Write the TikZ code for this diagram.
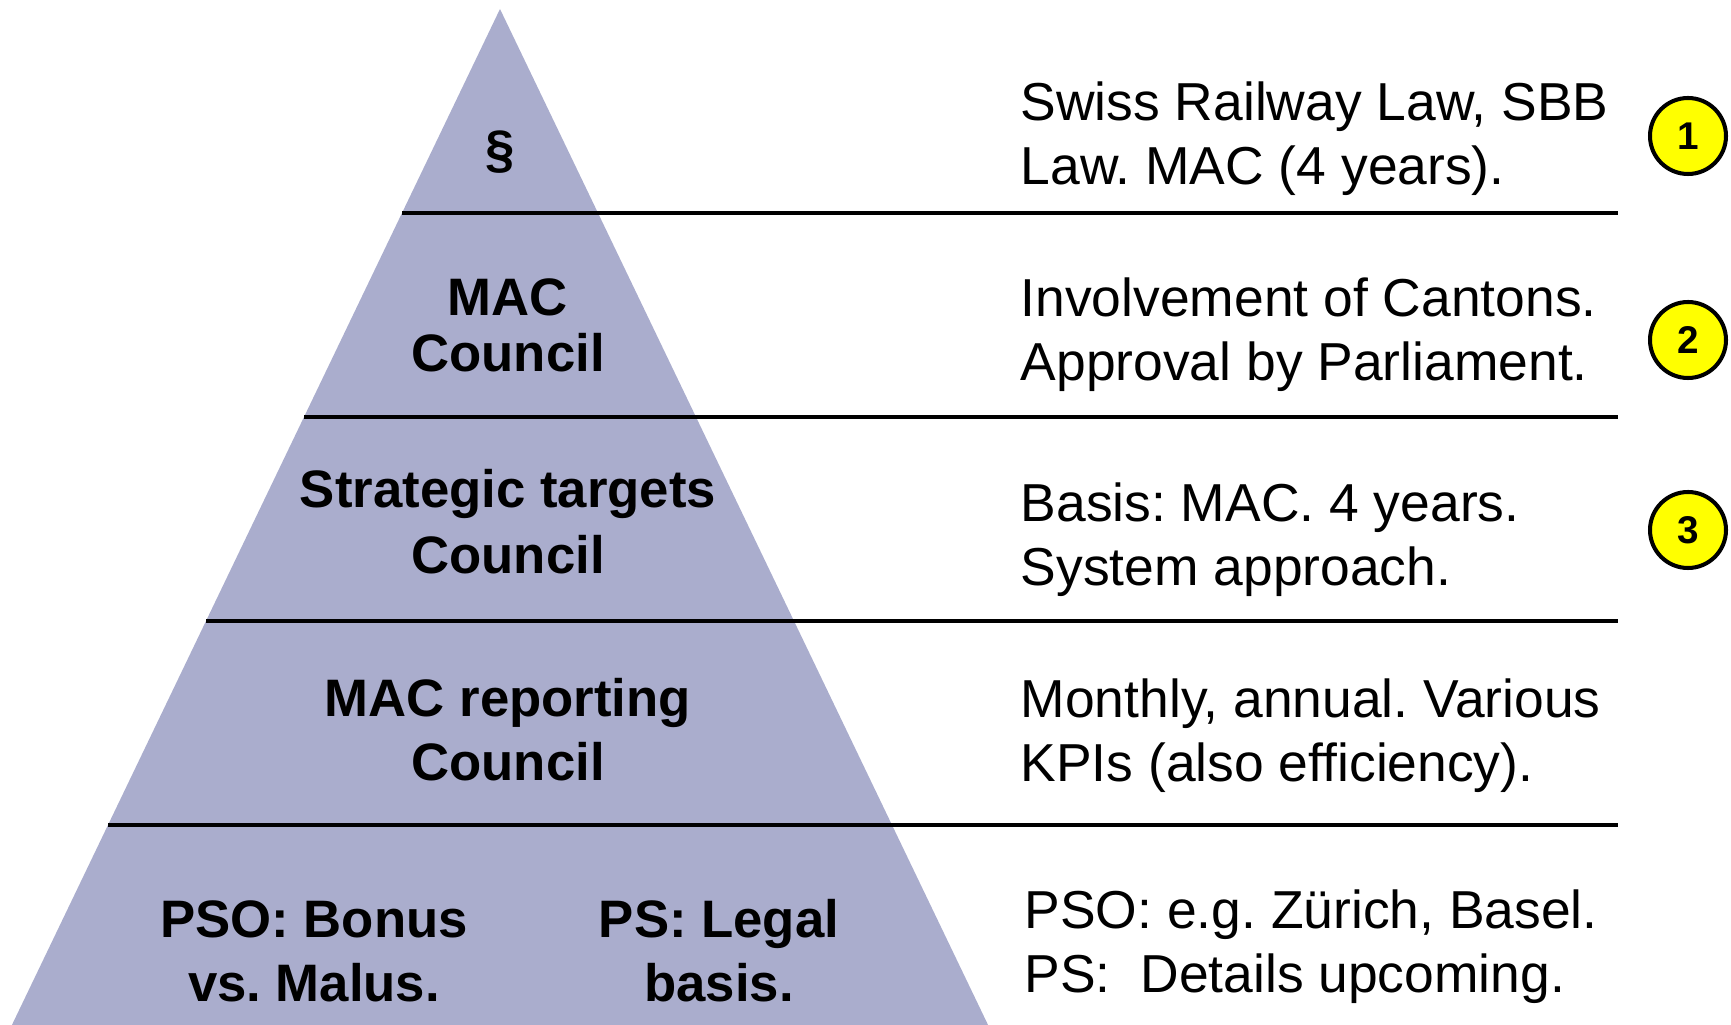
\documentclass[tikz,border=0pt]{standalone}
\usepackage{fontspec}
\setmainfont{Liberation Sans}
\usetikzlibrary{calc}
\frenchspacing

\definecolor{layerfill}{RGB}{170,173,205}
\definecolor{markyellow}{RGB}{255,255,0}

\begin{document}
\begin{tikzpicture}[
  layer/.style={font=\fontsize{15}{18.2}\selectfont\bfseries,align=center,inner sep=0pt},
  note/.style={font=\fontsize{15.2}{18.2}\selectfont,align=left,anchor=west,inner sep=0pt},
  marker/.style={circle,draw,line width=1.15pt,fill=markyellow,minimum size=0.76cm,inner sep=0pt,
    font=\fontsize{11}{13}\selectfont\bfseries}]
\useasboundingbox (0,0) rectangle (17.31,10.24);
\clip (0,0) rectangle (17.31,10.24);

\coordinate (apex) at (5.00,10.15);
\coordinate (bl) at (0.10,-0.05);
\coordinate (br) at (9.90,-0.05);
\coordinate (rend) at (16.18,0);
\fill[layerfill] (apex)--(br)--(bl)--cycle;
\foreach \k in {1,...,4}
  \coordinate (sep\k) at ($(apex)!\k/5!(bl)$);
\foreach \k in {1,...,4}
  \draw[line width=1.4pt] (sep\k)--(sep\k -| rend);

% pyramid layers
\node[layer] (law) at (5.00,8.72) {\S};
\node[layer,font=\fontsize{15}{15.9}\selectfont\bfseries] (mac) at (5.08,6.99) {MAC\\Council};
\node[layer,font=\fontsize{15}{18.8}\selectfont\bfseries] (targets) at (5.08,5.02) {Strategic targets\\Council};
\node[layer] (reporting) at (5.08,2.94) {MAC reporting\\Council};
\node[layer] (pso) at (3.14,0.73) {PSO: Bonus\\vs. Malus.};
\node[layer] (ps) at (7.19,0.73) {PS: Legal\\basis.};

% notes on the right
\node[note] (note1) at (10.20,8.85) {Swiss Railway Law, SBB\\Law. MAC (4 years).};
\node[note] (note2) at (10.20,6.89) {Involvement of Cantons.\\Approval by Parliament.};
\node[note] (note3) at (10.20,4.84) {Basis: MAC. 4 years.\\System approach.};
\node[note] (note4) at (10.20,2.88) {Monthly, annual. Various\\KPIs (also efficiency).};
\node[note] (note5) at (10.24,0.77) {PSO: e.g. Zürich, Basel.\\PS:~~Details upcoming.};

\node[marker] (m1) at (16.88,8.88) {1};
\node[marker] (m2) at (16.88,6.84) {2};
\node[marker] (m3) at (16.88,4.94) {3};
\end{tikzpicture}
\end{document}
